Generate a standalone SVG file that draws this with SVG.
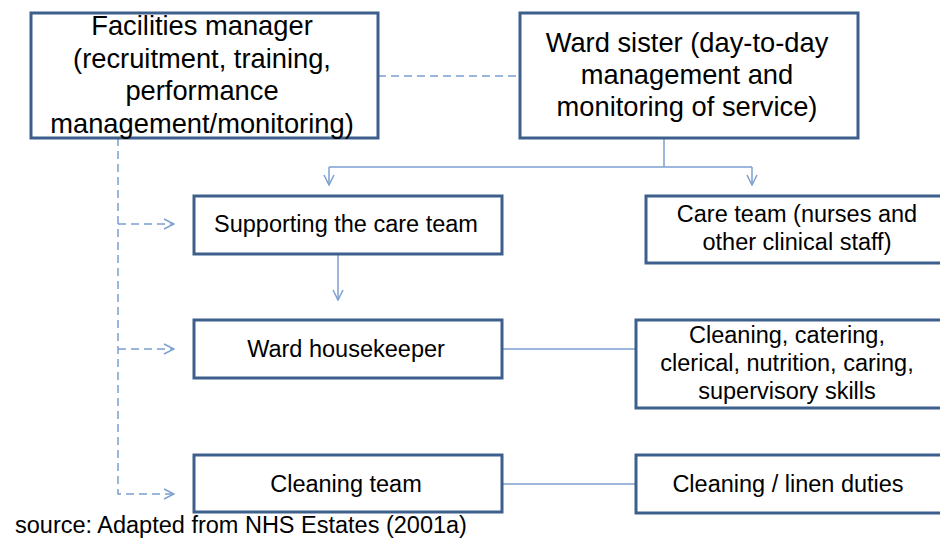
<svg xmlns="http://www.w3.org/2000/svg" width="940" height="538" viewBox="0 0 940 538">
<defs>
<style>
.box{fill:#fff;stroke:#3d5f8c;stroke-width:3}
.t{font-family:"Liberation Sans",Arial,sans-serif;fill:#000;text-anchor:middle}
.big{font-size:27.3px}
.sm{font-size:23.5px}
.ln{fill:none;stroke:#7b9fcf;stroke-width:1.5}
.dash{stroke-dasharray:8 5}
</style>
<marker id="ah" viewBox="0 0 12 12" refX="11" refY="6" markerWidth="12" markerHeight="12" markerUnits="userSpaceOnUse" orient="auto">
<path d="M1,1 L11,6 L1,11" fill="none" stroke="#7b9fcf" stroke-width="1.5"/>
</marker>
</defs>
<rect width="940" height="538" fill="#fff"/>
<g id="connectors">
<line class="ln dash" x1="378" y1="76" x2="520" y2="76"/>
<line class="ln" x1="664" y1="138" x2="664" y2="167"/>
<line class="ln" x1="329" y1="167" x2="752" y2="167"/>
<line class="ln" x1="329" y1="167" x2="329" y2="185" marker-end="url(#ah)"/>
<line class="ln" x1="752" y1="167" x2="752" y2="185" marker-end="url(#ah)"/>
<line class="ln" x1="338" y1="254" x2="338" y2="300" marker-end="url(#ah)"/>
<line class="ln" x1="502" y1="349" x2="636" y2="349"/>
<line class="ln" x1="502" y1="484" x2="636" y2="484"/>
<path class="ln dash" d="M118,138 L118,494 L174,494" marker-end="url(#ah)"/>
<line class="ln dash" x1="118" y1="224" x2="174" y2="224" marker-end="url(#ah)"/>
<line class="ln dash" x1="118" y1="349" x2="174" y2="349" marker-end="url(#ah)"/>
</g>
<g id="facilities">
<rect class="box" x="31" y="13" width="347" height="125"/>
<text class="t big" x="202" y="35">Facilities manager</text>
<text class="t big" x="202" y="68">(recruitment, training,</text>
<text class="t big" x="202" y="100">performance</text>
<text class="t big" x="202" y="133">management/monitoring)</text>
</g>
<g id="wardsister">
<rect class="box" x="520" y="13" width="338" height="125"/>
<text class="t big" x="687" y="52">Ward sister (day-to-day</text>
<text class="t big" x="687" y="84">management and</text>
<text class="t big" x="687" y="116">monitoring of service)</text>
</g>
<g id="supporting">
<rect class="box" x="194" y="196" width="308" height="58"/>
<text class="t sm" x="346" y="232">Supporting the care team</text>
</g>
<g id="careteam">
<rect class="box" x="646" y="196" width="300" height="67"/>
<text class="t sm" x="797" y="222">Care team (nurses and</text>
<text class="t sm" x="797" y="250">other clinical staff)</text>
</g>
<g id="housekeeper">
<rect class="box" x="194" y="320" width="308" height="58"/>
<text class="t sm" x="346" y="357">Ward housekeeper</text>
</g>
<g id="skills">
<rect class="box" x="636" y="320" width="310" height="88"/>
<text class="t sm" x="787" y="343">Cleaning, catering,</text>
<text class="t sm" x="787" y="371">clerical, nutrition, caring,</text>
<text class="t sm" x="787" y="399">supervisory skills</text>
</g>
<g id="cleaningteam">
<rect class="box" x="194" y="455" width="308" height="57"/>
<text class="t sm" x="346" y="492">Cleaning team</text>
</g>
<g id="linen">
<rect class="box" x="636" y="455" width="310" height="58"/>
<text class="t sm" x="788" y="492">Cleaning / linen duties</text>
</g>
<text x="15" y="533" style="font-family:'Liberation Sans',Arial,sans-serif;font-size:23.5px;fill:#000">source: Adapted from NHS Estates (2001a)</text>
</svg>
